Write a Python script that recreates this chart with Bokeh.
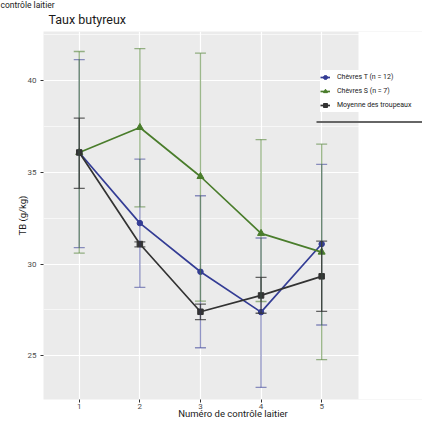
from bokeh.plotting import figure
from bokeh.models import (ColumnDataSource, Whisker, TeeHead, Legend, LegendItem,
                          Title, BoxAnnotation, Range1d, FixedTicker, SingleIntervalTicker)
from bokeh.embed import file_html
from bokeh.resources import INLINE

# ---- data ----
controles = [1, 2, 3, 4, 5]
x_labels = ["1", "2", "3", "4", "5"]

t_mean = [36.08, 32.23, 29.58, 27.38, 31.09]
t_upper = [41.14, 35.72, 33.72, 31.42, 35.43]
t_lower = [30.90, 28.73, 25.44, 23.28, 26.68]

s_mean = [36.08, 37.44, 34.77, 31.67, 30.65]
s_upper = [41.58, 41.74, 41.49, 36.78, 36.53]
s_lower = [30.60, 33.12, 27.98, 27.96, 24.79]

m_mean = [36.08, 31.09, 27.40, 28.29, 29.33]
m_upper = [37.95, 31.21, 27.82, 29.27, 31.25]
m_lower = [34.12, 30.94, 26.97, 27.32, 27.42]

series_names = ["Chèvres T (n = 12)", "Chèvres S (n = 7)", "Moyenne des troupeaux"]

FONT = "Roboto"
BLUE = "#343d95"
GREEN = "#4a7d2c"
BLACK = "#333333"

X_PANEL_END = 5.608   # right edge of the grey panel (data units)

p = figure(width=422, height=421, output_backend="svg", toolbar_location=None,
           title_location=None,
           x_range=Range1d(0.41, 6.664), y_range=Range1d(22.62, 42.67),
           min_border_left=43, min_border_right=0, min_border_top=31, min_border_bottom=20,
           background_fill_color="#EBEBEB", border_fill_color="white", outline_line_color=None)

# title (nearest the panel) and header (outermost)
main_title = Title(text="Taux butyreux", align="left", offset=5, standoff=9,
                   text_font=FONT, text_font_size="12.5px", text_font_style="normal",
                   text_color="#1a1a1a")
header = Title(text="contrôle laitier", align="left", offset=-43, standoff=-9,
               text_font=FONT, text_font_size="8.5px", text_font_style="normal",
               text_color="#1a1a1a")
p.add_layout(main_title, "above")
p.add_layout(header, "above")

# axes
p.xaxis.ticker = FixedTicker(ticks=controles)
p.xaxis.major_label_overrides = {c: l for c, l in zip(controles, x_labels)}
p.yaxis.ticker = SingleIntervalTicker(interval=5, num_minor_ticks=2)
for ax in (p.xaxis[0], p.yaxis[0]):
    ax.axis_line_color = None
    ax.major_tick_line_color = "#333333"
    ax.major_tick_in = 0
    ax.major_tick_out = 3
    ax.minor_tick_line_color = None
    ax.major_label_text_font = FONT
    ax.major_label_text_font_size = "8px"
    ax.major_label_text_color = "#4d4d4d"
    ax.axis_label_text_font = FONT
    ax.axis_label_text_font_size = "9.5px"
    ax.axis_label_text_font_style = "normal"
    ax.axis_label_text_color = "#1a1a1a"
p.xaxis.axis_label = "Numéro de contrôle laitier"
p.xaxis.major_label_standoff = 1
p.xaxis.axis_label_standoff = -4
p.yaxis.axis_label = "TB (g/kg)"
p.yaxis.major_label_standoff = 3
p.yaxis.axis_label_standoff = -3

# grid
p.xgrid.grid_line_color = "white"
p.xgrid.grid_line_width = 1.2
p.ygrid.grid_line_color = "white"
p.ygrid.grid_line_width = 1.2
p.ygrid.minor_grid_line_color = "white"
p.ygrid.minor_grid_line_width = 0.6

# white area to the right of the grey panel
p.add_layout(BoxAnnotation(left=X_PANEL_END, fill_color="white", fill_alpha=1,
                           line_color=None, level="underlay"))

items = []
specs = [
    (t_mean, t_upper, t_lower, BLUE, "circle", 5.5, 0.55),
    (s_mean, s_upper, s_lower, GREEN, "triangle", 7, 0.55),
    (m_mean, m_upper, m_lower, BLACK, "square", 5.5, 0.75),
]
for name, (mean, up, lo, col, mk, sz, ea) in zip(series_names, specs):
    src = ColumnDataSource(dict(x=controles, y=mean, upper=up, lower=lo))
    w = Whisker(source=src, base="x", upper="upper", lower="lower",
                line_color=col, line_alpha=ea, line_width=1.3, level="glyph",
                upper_head=TeeHead(size=11, line_color=col, line_alpha=ea, line_width=1.3),
                lower_head=TeeHead(size=11, line_color=col, line_alpha=ea, line_width=1.3))
    p.add_layout(w)
    ln = p.line("x", "y", source=src, line_color=col, line_width=1.7)
    sc = p.scatter("x", "y", source=src, marker=mk, size=sz, color=col)
    items.append(LegendItem(label=name, renderers=[ln, sc]))

legend = Legend(items=items, location=(277, 287), orientation="vertical",
                background_fill_color="white", background_fill_alpha=1.0,
                border_line_color=None, padding=8, spacing=0, margin=0,
                glyph_width=10, glyph_height=14, label_height=14, label_standoff=7,
                label_text_font=FONT, label_text_font_size="7px", label_text_color="#1a1a1a")
p.add_layout(legend)

# dark rule below legend
p.add_layout(BoxAnnotation(left=273, right=400, bottom=276.5, top=278.5,
                           left_units="screen", right_units="screen",
                           bottom_units="screen", top_units="screen",
                           fill_color="#666666", fill_alpha=1, line_color=None))

open("out.html", "w").write(file_html(p, INLINE))
